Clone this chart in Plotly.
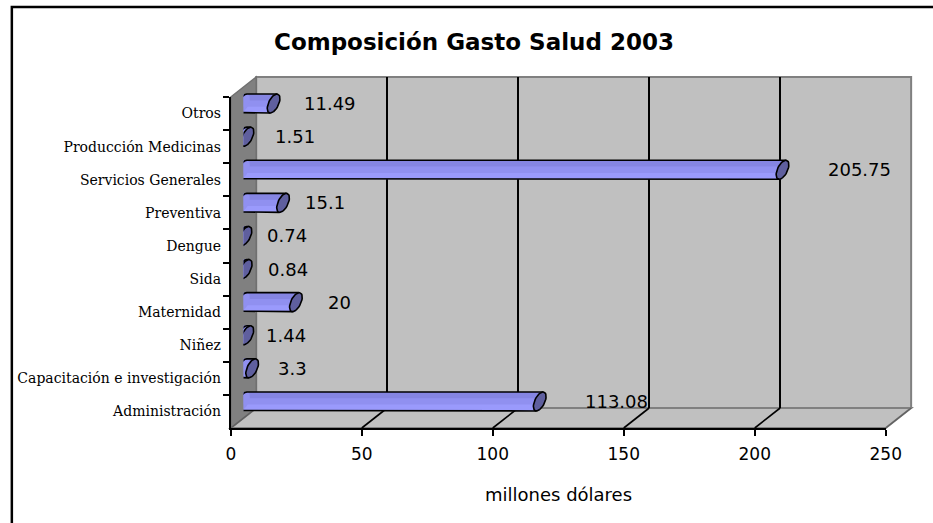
import math
import plotly.graph_objects as go

# ---------------- data ----------------
categories = ["Administración", "Capacitación e investigación", "Niñez", "Maternidad",
              "Sida", "Dengue", "Preventiva", "Servicios Generales",
              "Producción Medicinas", "Otros"]
values = [113.08, 3.3, 1.44, 20, 0.84, 0.74, 15.1, 205.75, 1.51, 11.49]
x_ticks = [0, 50, 100, 150, 200, 250]
title_text = "Composición Gasto Salud 2003"
x_title = "millones dólares"

# ---------------- geometry (pixels) ----------------
W, H = 933, 523
FX0, FX1, FY0, FY1 = 231, 901, 97, 428      # front plane
DX, DY = 26, -20                            # depth offset
XMAX = 250
label_xshift = [43, 24, 17, 30, 20, 20, 20, 43, 26, 28]   # label offsets (px)


def px(x):
    return x / W


def py(y):
    return 1 - y / H


n = len(categories)
idx = list(range(n))
sx = XMAX / (FX1 - FX0)          # data units per px (x)
sy = n / (FY1 - FY0)             # category units per px (y)

# cylinder cross-section ellipse (px)
h = 6.5
S = 9.5
k = h * (-DY) / DX
R = math.sqrt(S * S - k * k)
phi = math.atan2(k, R)

BAR_LIGHT = "#9A9AFC"
BAR_MID = "#9090F0"
BAR_DARK = "#8585E2"
CAP_COLOR = "#5F5F9E"


def ell_pt(v, i, t):
    xp = h * math.sin(t)
    yp = R * math.cos(t) - k * math.sin(t)
    return v + xp * sx, i - yp * sy


fig = go.Figure()

# dummy traces so every subplot exists
fig.add_trace(go.Scatter(x=[None], y=[None], xaxis="x", yaxis="y",
                         showlegend=False, hoverinfo="skip"))
fig.add_trace(go.Scatter(x=[0] * n, y=categories, xaxis="x2", yaxis="y2",
                         mode="markers", marker=dict(opacity=0),
                         showlegend=False, hoverinfo="skip"))

# left rounded ends (fill)
lx, ly = [], []
for i, v in zip(idx, values):
    for j in range(41):
        t = 2 * math.pi * j / 40
        a, b = ell_pt(0, i, t)
        lx.append(a)
        ly.append(b)
    lx.append(None)
    ly.append(None)
fig.add_trace(go.Scatter(x=lx, y=ly, xaxis="x3", yaxis="y3", mode="lines",
                         fill="toself", fillcolor=BAR_MID,
                         line=dict(width=0, color=BAR_MID),
                         showlegend=False, hoverinfo="skip"))

# bar bodies (three tones to imitate the shading)
bw = 2 * S * sy
fig.add_trace(go.Bar(x=values, y=idx, orientation="h", xaxis="x3", yaxis="y3",
                     width=bw, marker=dict(color=BAR_LIGHT, line=dict(width=0)),
                     showlegend=False, hoverinfo="skip"))
fig.add_trace(go.Bar(x=values, y=idx, orientation="h", xaxis="x3", yaxis="y3",
                     width=bw * 2 / 3, offset=-bw / 6,
                     marker=dict(color=BAR_MID, line=dict(width=0)),
                     showlegend=False, hoverinfo="skip"))
fig.add_trace(go.Bar(x=values, y=idx, orientation="h", xaxis="x3", yaxis="y3",
                     width=bw / 3, offset=bw / 6,
                     marker=dict(color=BAR_DARK, line=dict(width=0)),
                     showlegend=False, hoverinfo="skip"))

# outlines (bottom line, left arc, top line)
ox, oy = [], []
for i, v in zip(idx, values):
    ox.append(v - h * math.sin(phi) * sx)
    oy.append(i - S * sy)
    for j in range(31):
        t = -phi - math.pi * j / 30
        a, b = ell_pt(0, i, t)
        ox.append(a)
        oy.append(b)
    ox.append(v + h * math.sin(phi) * sx)
    oy.append(i + S * sy)
    ox.append(None)
    oy.append(None)
fig.add_trace(go.Scatter(x=ox, y=oy, xaxis="x3", yaxis="y3", mode="lines",
                         line=dict(color="black", width=1.6),
                         showlegend=False, hoverinfo="skip"))

# right end caps
cx, cy = [], []
for i, v in zip(idx, values):
    for j in range(41):
        t = 2 * math.pi * j / 40
        a, b = ell_pt(v, i, t)
        cx.append(a)
        cy.append(b)
    cx.append(None)
    cy.append(None)
fig.add_trace(go.Scatter(x=cx, y=cy, xaxis="x3", yaxis="y3", mode="lines",
                         fill="toself", fillcolor=CAP_COLOR,
                         line=dict(color="black", width=1.6),
                         showlegend=False, hoverinfo="skip"))

# ---------------- shapes (walls / floor) ----------------
shapes = []
shapes.append(dict(type="rect", xref="paper", yref="paper",
                   x0=px(7), x1=1.05, y0=py(7), y1=-0.05,
                   line=dict(color="black", width=2.5), layer="below"))
shapes.append(dict(type="rect", xref="paper", yref="paper",
                   x0=px(FX0 + DX), x1=px(FX1 + DX), y0=py(FY1 + DY), y1=py(FY0 + DY),
                   fillcolor="#C0C0C0", line=dict(color="#808080", width=2), layer="below"))


def ppath(points):
    return "M " + " L ".join(f"{px(a)},{py(b)}" for a, b in points) + " Z"


shapes.append(dict(type="path", xref="paper", yref="paper",
                   path=ppath([(FX0, FY1), (FX1, FY1), (FX1 + DX, FY1 + DY), (FX0 + DX, FY1 + DY)]),
                   fillcolor="#C0C0C0", line=dict(color="#808080", width=2), layer="below"))
shapes.append(dict(type="path", xref="paper", yref="paper",
                   path=ppath([(FX0, FY0), (FX0 + DX, FY0 + DY), (FX0 + DX, FY1 + DY), (FX0, FY1)]),
                   fillcolor="#808080", line=dict(color="#707070", width=1.5), layer="below"))
for tv in x_ticks:
    xf = FX0 + tv * (FX1 - FX0) / XMAX
    edge = tv in (x_ticks[0], x_ticks[-1])
    shapes.append(dict(type="line", xref="paper", yref="paper",
                       x0=px(xf), y0=py(FY1), x1=px(xf + DX), y1=py(FY1 + DY),
                       line=dict(color="#606060" if edge else "black", width=1.2 if edge else 1.6),
                       layer="below"))

# ---------------- annotations ----------------
annotations = []
for i, v, dxs in zip(idx, values, label_xshift):
    annotations.append(dict(x=v, y=i, xref="x3", yref="y3", text=f"{v:g}",
                            showarrow=False, xanchor="left", yanchor="middle",
                            xshift=dxs, yshift=0,
                            font=dict(family="DejaVu Sans", size=18, color="black")))
annotations.append(dict(x=px(479.5), y=py(42), xref="paper", yref="paper",
                        text=title_text, showarrow=False, xanchor="center", yanchor="middle",
                        font=dict(family="DejaVu Sans", size=23, color="black", weight="bold")))
annotations.append(dict(x=px((FX0 + FX1) / 2), y=py(494), xref="paper", yref="paper",
                        text=x_title, showarrow=False, xanchor="center", yanchor="middle",
                        font=dict(family="DejaVu Sans", size=18, color="black")))

fig.update_layout(
    width=W, height=H, autosize=False,
    margin=dict(l=0, r=0, t=0, b=0, pad=0),
    paper_bgcolor="white", plot_bgcolor="rgba(0,0,0,0)",
    showlegend=False, barmode="overlay",
    shapes=shapes, annotations=annotations,
    # back wall grid
    xaxis=dict(domain=[px(FX0 + DX), px(FX1 + DX)], range=[0, XMAX], anchor="y",
               tickvals=x_ticks[1:-1], showgrid=True, gridcolor="black", gridwidth=1.6,
               showticklabels=False, ticks="", showline=False, zeroline=False, fixedrange=True),
    yaxis=dict(domain=[py(FY1 + DY), py(FY0 + DY)], range=[0, 1], anchor="x",
               showgrid=False, showticklabels=False, ticks="", showline=False,
               zeroline=False, fixedrange=True),
    # front axes
    xaxis2=dict(domain=[px(FX0), px(FX1)], range=[0, XMAX], anchor="y2",
                tickvals=x_ticks, ticktext=[str(t) for t in x_ticks],
                ticks="outside", ticklen=6, tickwidth=2, tickcolor="black",
                showline=True, linecolor="black", linewidth=2,
                showgrid=False, zeroline=False, ticklabelstandoff=4,
                tickfont=dict(family="DejaVu Sans", size=17, color="black"), fixedrange=True),
    yaxis2=dict(domain=[py(FY1), py(FY0)], type="category",
                categoryorder="array", categoryarray=categories,
                range=[-0.5, n - 0.5], anchor="x2",
                ticks="outside", tickson="boundaries", ticklen=6, tickwidth=2,
                tickcolor="black", showline=True, linecolor="black", linewidth=2,
                showgrid=False, zeroline=False, ticklabelstandoff=5,
                tickfont=dict(family="DejaVu Serif", size=14, color="black"), fixedrange=True),
    # bars (mid depth)
    xaxis3=dict(domain=[px(FX0 + DX / 2), px(FX1 + DX / 2)], range=[0, XMAX],
                anchor="y3", visible=False, fixedrange=True),
    yaxis3=dict(domain=[py(FY1 + DY / 2), py(FY0 + DY / 2)], range=[-0.5, n - 0.5],
                anchor="x3", visible=False, fixedrange=True),
)

fig.write_html("out.html", config={"displayModeBar": False, "responsive": False},
               post_script="document.body.style.margin='0px';document.body.style.overflow='hidden';")
